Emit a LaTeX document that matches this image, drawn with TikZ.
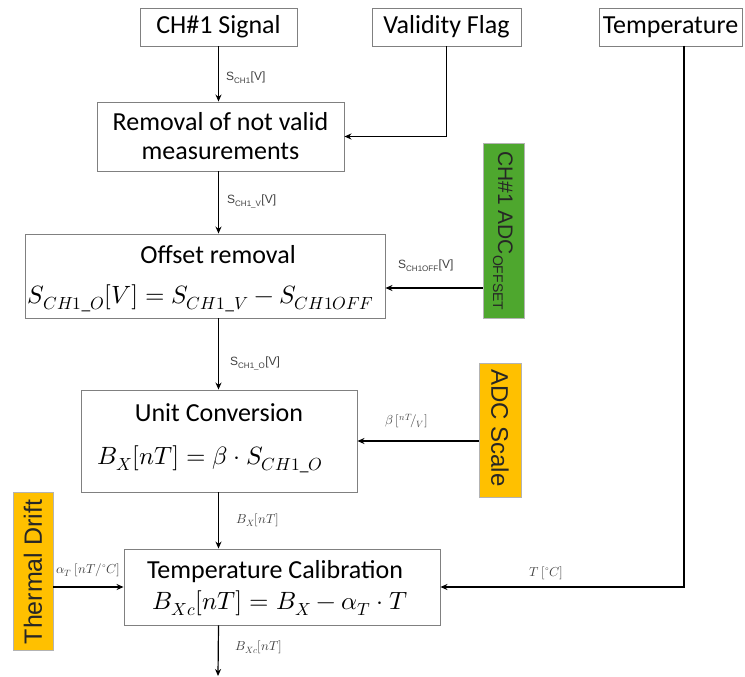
\documentclass[tikz,border=0pt]{standalone}
\usepackage{fontspec}
\usepackage{unicode-math}
\setmainfont{Carlito}
\newfontfamily\arialf{Liberation Sans}
\usetikzlibrary{arrows.meta}
\definecolor{boxgray}{HTML}{808080}
\definecolor{lblgray}{HTML}{404040}
\definecolor{offgreen}{HTML}{4EA72E}
\definecolor{scaleorange}{HTML}{FFC000}
\tikzset{
  blk/.style={draw=boxgray, line width=0.9pt, fill=white, inner sep=0pt, align=center, font=\fontsize{26}{29}\selectfont},
  srcbox/.style={draw=boxgray!60, line width=0.6pt, inner sep=0pt, align=center},
  srctxt/.style={inner sep=0pt, text=black!85, font=\arialf\fontsize{24}{28}\selectfont},
  conn/.style={line width=1.2pt, -{Stealth[length=7pt,width=6pt]}},
  lbl/.style={inner sep=0pt, anchor=west, text=lblgray, font=\arialf\fontsize{12}{14}\selectfont},
  mlbl/.style={inner sep=0pt, anchor=west, text=lblgray, font=\fontsize{13}{15}\selectfont},
  eq/.style={inner sep=0pt, font=\fontsize{25}{29}\selectfont},
  ttl/.style={inner sep=0pt, font=\fontsize{26}{29}\selectfont}
}
\begin{document}
\begin{tikzpicture}[x=1pt,y=-1pt]
\useasboundingbox (0,0) rectangle (745,677);
% top inputs
\node[blk, minimum width=157pt, minimum height=38pt] (sig) at (218.5,27) {CH\#1 Signal};
\node[blk, minimum width=149pt, minimum height=38pt] (val) at (446.5,27) {Validity Flag};
\node[blk, minimum width=143pt, minimum height=38pt] (tmp) at (670.5,27) {Temperature};
% processing blocks
\node[blk, minimum width=247pt, minimum height=69pt] (rem) at (220.5,136.5) {Removal of not valid\\measurements};
\node[blk, minimum width=360pt, minimum height=84pt] (off) at (205,276) {};
\node[ttl] (offt) at (218,255) {Offset removal};
\node[eq] (offe) at (201,298) {$S_{CH1\_O}[V] = S_{CH1\_V} - S_{CH1OFF}$};
\node[blk, minimum width=276pt, minimum height=102pt] (uni) at (219,441) {};
\node[ttl] (unit) at (219,413) {Unit Conversion};
\node[eq] (unie) at (210,459) {$B_X[nT] = \beta\cdot S_{CH1\_O}$};
\node[blk, minimum width=316pt, minimum height=76pt] (cal) at (282,587) {};
\node[ttl] (calt) at (275,572) {Temperature Calibration};
\node[eq] (cale) at (280,603) {$B_{Xc}[nT] = B_X - \alpha_T\cdot T$};
% side sources
\node[srcbox, fill=offgreen, minimum width=41pt, minimum height=175pt] (adco) at (503.5,230.5) {};
\begin{scope}
\clip (adco.north west) rectangle (adco.south east);
\node[srctxt, rotate=-90, anchor=west, font=\arialf\fontsize{21}{25}\selectfont] (adcot) at (503,151) {CH\#1 ADC\raisebox{-0.45ex}{\fontsize{14}{16}\selectfont OFFSET}};
\end{scope}
\node[srcbox, fill=scaleorange, minimum width=42pt, minimum height=134pt] (adcs) at (500,430) {};
\node[srctxt, rotate=-90] (adcst) at (500,428) {ADC Scale};
\node[srcbox, fill=scaleorange, minimum width=40pt, minimum height=158pt] (thd) at (33,571) {};
\node[srctxt, rotate=90, font=\arialf\fontsize{25}{29}\selectfont] (thdt) at (33,572) {Thermal Drift};
% helper coordinates
\coordinate (tmpdrop) at (684,46);
\coordinate (tmpturn) at (684,587);
\coordinate (outend) at (218,676);
% connectors
\draw[conn] (sig.south) -- (sig.south |- rem.north);
\draw[conn] (val.south) |- (rem.east);
\draw[conn] (sig.south |- rem.south) -- (sig.south |- off.north);
\draw[conn] (adco.west |- 0,288) -- (off.east |- 0,288);
\draw[conn] (sig.south |- off.south) -- (sig.south |- uni.north);
\draw[conn] (adcs.west |- 0,441) -- (uni.east |- 0,441);
\draw[conn] (sig.south |- uni.south) -- (sig.south |- cal.north);
\draw[conn] (thd.east |- 0,587) -- (cal.west |- 0,587);
\draw[conn] (tmpdrop) -- (tmpturn) -- (cal.east |- tmpturn);
\draw[conn] (sig.south |- cal.south) -- (outend);
% labels
\node[lbl] (l1) at (226,78) {S\textsubscript{CH1}[V]};
\node[lbl] (l2) at (227,201) {S\textsubscript{CH1\_V}[V]};
\node[lbl] (l3) at (398,266) {S\textsubscript{CH1OFF}[V]};
\node[lbl] (l4) at (230,363) {S\textsubscript{CH1\_O}[V]};
\node[mlbl] (l5) at (385,421) {$\beta\ [{}^{nT}\!/_{V}]$};
\node[mlbl] (l6) at (236,520) {$B_X[nT]$};
\node[mlbl] (l7) at (56,570) {$\alpha_T\ [nT/{}^{\circ}C]$};
\node[mlbl] (l8) at (529,573) {$T\ [{}^{\circ}C]$};
\node[mlbl] (l9) at (235,647) {$B_{Xc}[nT]$};
\end{tikzpicture}
\end{document}
